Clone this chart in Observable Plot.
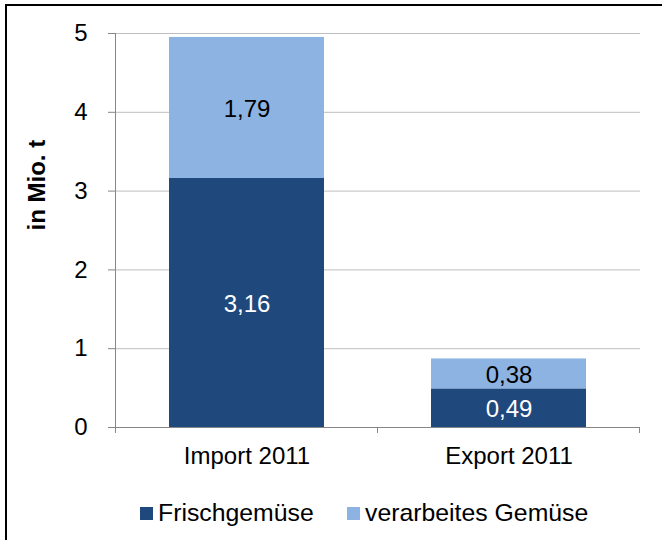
<!DOCTYPE html>
<html>
<head>
<meta charset="utf-8">
<script src="https://cdn.jsdelivr.net/npm/d3@7"></script>
<script src="https://cdn.jsdelivr.net/npm/@observablehq/plot@0.6"></script>
<style>
  html, body { margin: 0; padding: 0; background: #fff; }
  #wrap { position: relative; width: 662px; height: 540px; overflow: hidden; font-family: "Liberation Sans", Arial, sans-serif; }
  #frame { position: absolute; left: 5px; top: 4px; width: 700px; height: 600px; border-left: 2px solid #000; border-top: 2px solid #000; box-sizing: border-box; pointer-events: none; }
  #legend { position: absolute; top: 0; left: 0; width: 662px; height: 540px; font-size: 24.8px; color: #000; pointer-events: none; }
  #legend i { position: absolute; top: 507px; width: 13px; height: 13px; }
  #legend span { position: absolute; top: 499px; line-height: 28px; white-space: nowrap; }
</style>
</head>
<body>
<div id="wrap">
  <div id="chart"></div>
  <div id="legend"></div>
  <div id="frame"></div>
</div>
<script>
const categories = ["Import 2011", "Export 2011"];
const series = ["Frischgemüse", "verarbeites Gemüse"];
const frischValues = [3.16, 0.49];
const verarbeitetValues = [1.79, 0.38];
const yTicks = [0, 1, 2, 3, 4, 5];
const colors = ["#1F497D", "#8DB3E2"];
const labelColors = ["#ffffff", "#000000"];

const data = [];
categories.forEach((c, i) => {
  data.push({cat: c, series: series[0], value: frischValues[i]});
  data.push({cat: c, series: series[1], value: verarbeitetValues[i]});
});
const fmt = v => v.toFixed(2).replace(".", ",");

const font = "Liberation Sans, Arial, sans-serif";
const plot = Plot.plot({
  width: 662,
  height: 540,
  marginLeft: 115,
  marginRight: 22,
  marginTop: 33,
  marginBottom: 113,
  style: {fontFamily: font, fontSize: "24px", color: "#000", background: "transparent", overflow: "visible"},
  x: {domain: categories, paddingInner: 0.41, paddingOuter: 0.205, label: null},
  y: {domain: [0, 5], label: null},
  color: {domain: series, range: colors},
  marks: [
    Plot.gridY(yTicks.filter(d => d > 0), {stroke: "#BFBFBF", strokeOpacity: 1, strokeWidth: 1}),
    Plot.barY(data, Plot.stackY({x: "cat", y: "value", fill: "series", order: series})),
    Plot.text(data, Plot.stackY({x: "cat", y: "value", order: series, text: d => fmt(d.value),
      fill: d => labelColors[series.indexOf(d.series)], fontSize: 24, dy: 1})),
    Plot.axisY({ticks: yTicks, tickFormat: d => String(d), tickSize: 7, tickPadding: 21, stroke: "#868686", fill: "#000", fontSize: 24, label: null}),
    Plot.axisX({tickSize: 0, tickPadding: 19, fontSize: 24, fill: "#000", label: null}),
    Plot.ruleY([0], {stroke: "#868686", strokeWidth: 1}),
    Plot.frame({anchor: "left", stroke: "#868686", strokeWidth: 1}),
    Plot.text(["in Mio. t"], {frameAnchor: "left", dx: -78, rotate: -90, fontWeight: "bold", fontSize: 24})
  ]
});
document.getElementById("chart").appendChild(plot);

// x-axis category boundary ticks (drawn from the band scale)
const xs = plot.scale("x");
const ys = plot.scale("y");
const svg = d3.select(plot);
const step = xs.step;
const boundaries = [xs.apply(categories[0]) - (step - xs.bandwidth) / 2];
categories.forEach(c => boundaries.push(xs.apply(c) + xs.bandwidth + (step - xs.bandwidth) / 2));
svg.append("g").selectAll("line").data(boundaries).join("line")
  .attr("x1", d => d).attr("x2", d => d)
  .attr("y1", ys.apply(0)).attr("y2", ys.apply(0) + 6)
  .attr("stroke", "#868686");

const legend = document.getElementById("legend");
const legendX = [140, 347];
series.forEach((s, i) => {
  const sw = document.createElement("i");
  sw.style.left = legendX[i] + "px";
  sw.style.background = colors[i];
  legend.appendChild(sw);
  const t = document.createElement("span");
  t.style.left = (legendX[i] + 18) + "px";
  t.textContent = s;
  legend.appendChild(t);
});
</script>
</body>
</html>
